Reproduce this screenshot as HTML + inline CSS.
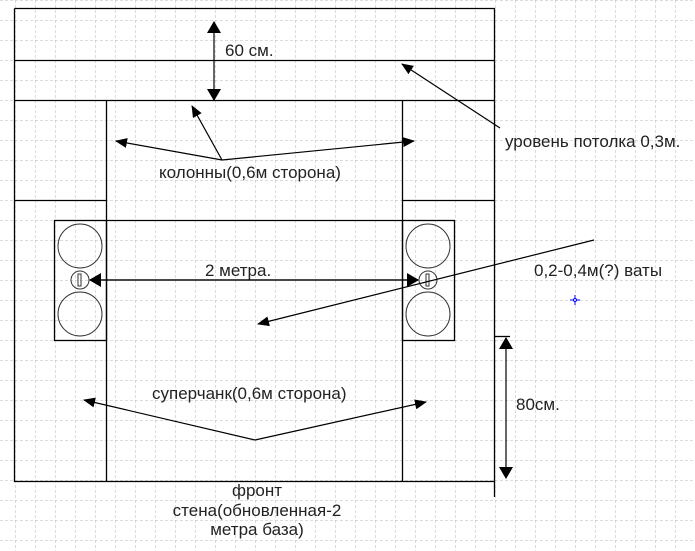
<!DOCTYPE html>
<html><head><meta charset="utf-8"><style>
html,body{margin:0;padding:0;background:#fff}
svg{display:block}
text{font-family:"Liberation Sans",sans-serif;font-size:17px;fill:#222}
</style></head><body>
<svg width="695" height="551" viewBox="0 0 695 551">
<defs>
<pattern id="g" x="15" y="0" width="20" height="20" patternUnits="userSpaceOnUse">
<path d="M0 0V20M0 0H20" stroke="#b8b8b8" stroke-width="1" stroke-dasharray="3,2" fill="none"/>
</pattern>
<marker id="a" markerWidth="12" markerHeight="10" refX="11" refY="5" orient="auto" markerUnits="userSpaceOnUse"><path d="M0,0L12,5L0,10z" fill="#000"/></marker>
<marker id="b" markerWidth="12" markerHeight="14" refX="11" refY="7" orient="auto" markerUnits="userSpaceOnUse"><path d="M0,0L12,7L0,14z" fill="#000"/></marker>
</defs>
<rect width="695" height="551" fill="url(#g)"/>
<g stroke="#000" stroke-width="1.3" fill="none">
<path d="M14.5 8.5H494.5V497M14.5 8.5V481.5H494.5M14.5 60.5H494.5M14.5 100.5H494.5"/>
<path d="M106.5 100.5V481.5M402.5 100.5V481.5M14.5 200.5H106.5M402.5 200.5H494.5M106.5 220.5H402.5"/>
<rect x="54.5" y="220.5" width="52" height="120"/>
<rect x="402.5" y="220.5" width="52" height="120"/>
<path d="M494.5 336.5H510"/>
</g>
<g stroke="#333" stroke-width="1" fill="none">
<circle cx="80" cy="246" r="22"/><circle cx="80" cy="314" r="22"/><circle cx="80" cy="280" r="9"/>
<rect x="78" y="274" width="3" height="12"/>
<circle cx="428" cy="246" r="22"/><circle cx="428" cy="314" r="22"/><circle cx="428" cy="280" r="9"/>
<rect x="426" y="274" width="3" height="12"/>
</g>
<g stroke="#000" stroke-width="1.2" fill="none">
<path d="M214 60V22" marker-end="url(#b)"/>
<path d="M214 60V100" marker-end="url(#b)"/>
<path d="M90 280H418" marker-end="url(#b)"/>
<path d="M418 280H90" marker-end="url(#b)"/>
<path d="M506 380V338" marker-end="url(#b)"/>
<path d="M506 380V478" marker-end="url(#b)"/>
<path d="M222 160L192 106" marker-end="url(#a)"/>
<path d="M222 160L116 141" marker-end="url(#a)"/>
<path d="M222 160L414 141" marker-end="url(#a)"/>
<path d="M500 128L402 64" marker-end="url(#a)"/>
<path d="M594 240L258 324" marker-end="url(#a)"/>
<path d="M255 440L84 400" marker-end="url(#a)"/>
<path d="M255 440L426 402" marker-end="url(#a)"/>
</g>
<path d="M570 300H580M575 295V305" stroke="#00f" stroke-width="1"/>
<circle cx="575" cy="300" r="1.5" fill="#fff" stroke="#00f"/>
<text x="225" y="56">60 см.</text>
<text x="505" y="147">уровень потолка 0,3м.</text>
<text x="159" y="178">колонны(0,6м сторона)</text>
<text x="205" y="276">2 метра.</text>
<text x="534" y="276">0,2-0,4м(?) ваты</text>
<text x="152" y="399">суперчанк(0,6м сторона)</text>
<text x="516" y="410">80см.</text>
<text x="257" y="496" text-anchor="middle">фронт</text>
<text x="257" y="516" text-anchor="middle">стена(обновленная-2</text>
<text x="257" y="535" text-anchor="middle">метра база)</text>
</svg>
</body></html>
